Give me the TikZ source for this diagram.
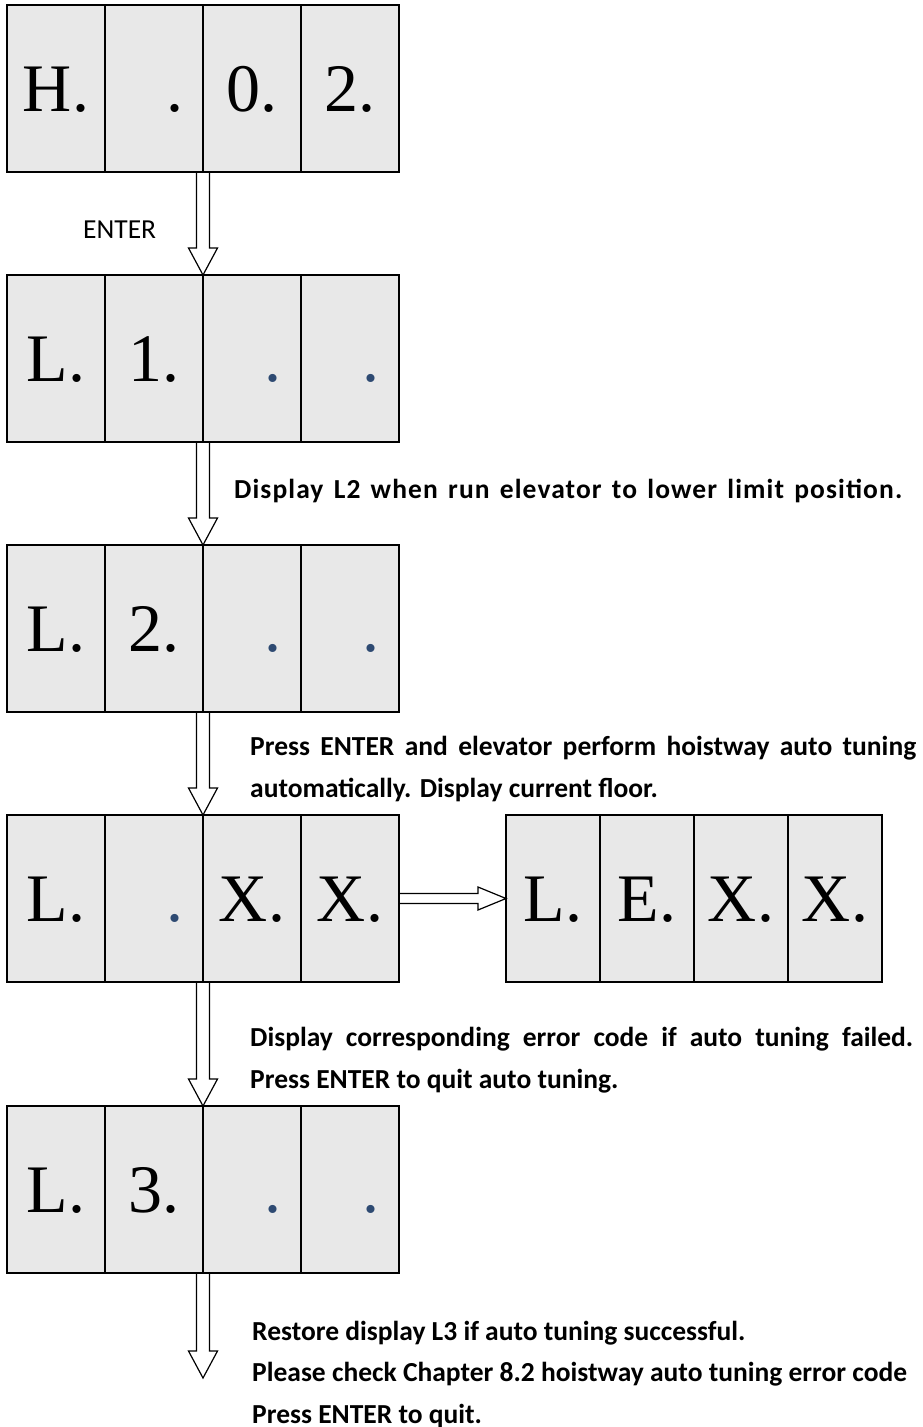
\documentclass[tikz,border=0pt]{standalone}
\usepackage{fontspec}
\setmainfont{Liberation Serif}
\newfontfamily\calibri{Carlito}
\usetikzlibrary{positioning,calc}
\definecolor{cellgray}{HTML}{E8E8E8}
\definecolor{dotblue}{HTML}{2E4A72}
\tikzset{
  seg/.style={
    draw=black, fill=cellgray, line width=1.4pt,
    minimum width=98pt, minimum height=167pt,
    inner sep=0pt, outer sep=0pt,
    font=\fontsize{68}{68}\selectfont, text height=45pt, text depth=0pt
  },
  narrowseg/.style={seg, minimum width=94pt},
  note/.style={font=\calibri\bfseries\fontsize{27.5}{41.5}\selectfont, align=left, inner sep=0pt},
  plainnote/.style={font=\calibri\fontsize{27.5}{41.5}\selectfont, inner sep=0pt},
  downarr/.style={line width=1.2pt, to path={let \p1=(\tikztostart), \p2=(\tikztotarget) in
    (\x1-6.5pt,\y1) -- (\x1-6.5pt,\y2+27pt) -- (\x1-14.5pt,\y2+27pt) -- (\x2,\y2)
    -- (\x1+14.5pt,\y2+27pt) -- (\x1+6.5pt,\y2+27pt) -- (\x1+6.5pt,\y1)}},
  rightarr/.style={line width=1.2pt, to path={let \p1=(\tikztostart), \p2=(\tikztotarget) in
    (\x1,\y1+5pt) -- (\x2-28pt,\y1+5pt) -- (\x2-28pt,\y1+11.5pt) -- (\x2,\y2)
    -- (\x2-28pt,\y1-11.5pt) -- (\x2-28pt,\y1-5pt) -- (\x1,\y1-5pt)}}
}
\newcommand{\segdot}[1]{\phantom{0.}\llap{\textcolor{#1}{.}\kern-4pt}}

\begin{document}
\begin{tikzpicture}[x=1pt, y=-1pt]
  \useasboundingbox (0,0) rectangle (923,1427);
  % H.02
  \node[seg] (d1a) at (56,88.5) {H.};
  \node[seg, right=0pt of d1a] (d1b) {\segdot{black}};
  \node[seg, right=0pt of d1b] (d1c) {0.};
  \node[seg, right=0pt of d1c] (d1d) {2.};
  % L1
  \node[seg, below=103pt of d1a] (d2a) {L.};
  \node[seg, right=0pt of d2a] (d2b) {1.};
  \node[seg, right=0pt of d2b] (d2c) {\segdot{dotblue}};
  \node[seg, right=0pt of d2c] (d2d) {\segdot{dotblue}};
  % L2
  \node[seg, below=103pt of d2a] (d3a) {L.};
  \node[seg, right=0pt of d3a] (d3b) {2.};
  \node[seg, right=0pt of d3b] (d3c) {\segdot{dotblue}};
  \node[seg, right=0pt of d3c] (d3d) {\segdot{dotblue}};
  % current floor
  \node[seg, below=103pt of d3a] (d4a) {L.};
  \node[seg, right=0pt of d4a] (d4b) {\segdot{dotblue}};
  \node[seg, right=0pt of d4b] (d4c) {X.};
  \node[seg, right=0pt of d4c] (d4d) {X.};
  % error code
  \node[narrowseg, right=107pt of d4d] (e4a) {L.};
  \node[narrowseg, right=0pt of e4a] (e4b) {E.};
  \node[narrowseg, right=0pt of e4b] (e4c) {X.};
  \node[narrowseg, right=0pt of e4c] (e4d) {X.};
  % L3
  \node[seg, below=124pt of d4a] (d5a) {L.};
  \node[seg, right=0pt of d5a] (d5b) {3.};
  \node[seg, right=0pt of d5b] (d5c) {\segdot{dotblue}};
  \node[seg, right=0pt of d5c] (d5d) {\segdot{dotblue}};
  \coordinate[below=105pt of d5b.south east] (quit);

  \draw[downarr] (d1b.south east) to (d2b.north east);
  \draw[downarr] (d2b.south east) to (d3b.north east);
  \draw[downarr] (d3b.south east) to (d4b.north east);
  \draw[downarr] (d4b.south east) to (d5b.north east);
  \draw[downarr] (d5b.south east) to (quit);
  \draw[rightarr] (d4d.east) to (e4a.west);

  \node[plainnote, anchor=west] (enter) at (83,229.5) {ENTER};
  \node[note, anchor=west] (lowtxt) at (234,491) {\addfontfeature{LetterSpace=4}\makebox[668pt][s]{Display L2 when run elevator to lower limit position.}};
  \node[note, anchor=west] (tunetxt) at (250,769) {\makebox[666pt][s]{Press ENTER and elevator perform hoistway auto tuning}\\automatically. Display current floor.};
  \node[note, anchor=west] (failtxt) at (250,1060) {\makebox[663pt][s]{Display corresponding error code if auto tuning failed.}\\Press ENTER to quit auto tuning.};
  \node[note, anchor=west] (donetxt) at (252,1374) {Restore display L3 if auto tuning successful.\\Please check Chapter 8.2 hoistway auto tuning error code\\Press ENTER to quit.};
\end{tikzpicture}
\end{document}
